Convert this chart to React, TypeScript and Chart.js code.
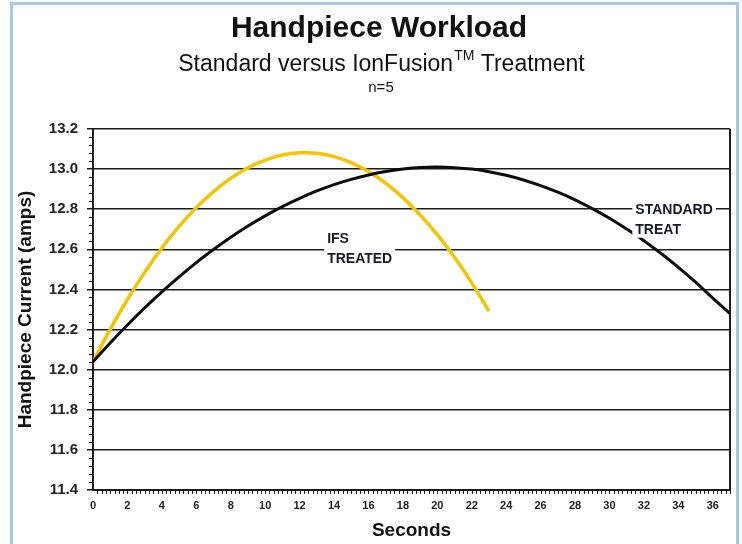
import React, { useEffect, useRef } from "react";
import { Chart, registerables } from "chart.js";

Chart.register(...registerables);

// ---- data ----
const standardSeconds = [0, 1, 2, 3, 4, 5, 6, 7, 8, 9, 10, 11, 12, 13, 14, 15, 16, 17, 18, 19, 20, 21, 22, 23, 24, 25, 26, 27, 28, 29, 30, 31, 32, 33, 34, 35, 36, 37];
const standardAmps = [12.04, 12.133, 12.223, 12.308, 12.388, 12.463, 12.534, 12.599, 12.66, 12.716, 12.767, 12.813, 12.854, 12.891, 12.923, 12.949, 12.971, 12.988, 13.0, 13.008, 13.01, 13.007, 13.0, 12.987, 12.969, 12.946, 12.918, 12.885, 12.847, 12.803, 12.755, 12.701, 12.643, 12.579, 12.51, 12.436, 12.357, 12.28];
const ifsSeconds = [0, 1, 2, 3, 4, 5, 6, 7, 8, 9, 10, 11, 12, 13, 14, 15, 16, 17, 18, 19, 20, 21, 22, 23];
const ifsAmps = [12.04, 12.201, 12.35, 12.485, 12.607, 12.714, 12.808, 12.888, 12.954, 13.007, 13.045, 13.07, 13.081, 13.079, 13.062, 13.032, 12.988, 12.93, 12.858, 12.772, 12.673, 12.56, 12.433, 12.292];

const seriesNames = ["STANDARD TREAT", "IFS TREATED"];
const ifsLabelLines = ["IFS", "TREATED"];
const ifsLabelAt = [13.6, 12.655];
const standardLabelLines = ["STANDARD", "TREAT"];
const standardLabelAt = [31.5, 12.8];

const yMin = 11.4;
const yMax = 13.2;
const yStep = 0.2;
const yMinorStep = 0.04;
const xMin = 0;
const xMax = 37;
const xStep = 2;
const xMinorStep = 0.25;

const titleText = "Handpiece Workload";
const subtitleMain = "Standard versus IonFusion";
const subtitleSup = "TM";
const subtitleEnd = " Treatment";
const nText = "n=5";
const xTitle = "Seconds";
const yTitle = "Handpiece Current (amps)";

const FONT = '"Liberation Sans", Arial, Helvetica, sans-serif';
const INK = "#1c1c1c";

const decorPlugin = {
  id: "decor",
  afterDatasetsDraw(chart: any) {
    const { ctx, chartArea, scales } = chart;
    const xs = scales.x;
    const ys = scales.y;
    ctx.save();
    // right frame of plot area
    ctx.strokeStyle = INK;
    ctx.lineWidth = 2;
    ctx.beginPath();
    ctx.moveTo(chartArea.right, chartArea.top);
    ctx.lineTo(chartArea.right, chartArea.bottom);
    ctx.stroke();

    // minor ticks on y axis
    ctx.lineWidth = 1;
    const nY = Math.round((yMax - yMin) / yMinorStep);
    for (let i = 0; i <= nY; i++) {
      if (i % 5 === 0) continue;
      const py = Math.round(ys.getPixelForValue(yMin + i * yMinorStep)) + 0.5;
      ctx.beginPath();
      ctx.moveTo(chartArea.left - 4, py);
      ctx.lineTo(chartArea.left, py);
      ctx.stroke();
    }
    // minor ticks on x axis
    const nX = Math.round((xMax - xMin) / xMinorStep);
    for (let i = 1; i <= nX; i++) {
      const px = Math.round(xs.getPixelForValue(xMin + i * xMinorStep)) + 0.5;
      ctx.beginPath();
      ctx.moveTo(px, chartArea.bottom);
      ctx.lineTo(px, chartArea.bottom + 4);
      ctx.stroke();
    }

    // in-plot series labels
    const drawLabel = (lines: string[], at: number[]) => {
      ctx.font = "bold 14px " + FONT;
      ctx.textBaseline = "middle";
      ctx.textAlign = "left";
      const x0 = xs.getPixelForValue(at[0]);
      const y0 = ys.getPixelForValue(at[1]);
      lines.forEach((ln, i) => {
        const w = ctx.measureText(ln).width;
        const y = y0 + i * 19.5;
        ctx.fillStyle = "#ffffff";
        ctx.fillRect(x0 - 3, y - 9, w + 6, 18);
      });
      lines.forEach((ln, i) => {
        const y = y0 + i * 19.5;
        ctx.fillStyle = "#151a28";
        ctx.fillText(ln, x0, y + 1);
      });
    };
    drawLabel(ifsLabelLines, ifsLabelAt);
    drawLabel(standardLabelLines, standardLabelAt);

    // titles
    ctx.fillStyle = "#111";
    ctx.textBaseline = "alphabetic";
    ctx.textAlign = "center";
    ctx.font = "bold 30px " + FONT;
    ctx.fillText(titleText, 379, 37);

    const big = "23px " + FONT;
    const small = "14px " + FONT;
    ctx.font = big;
    const w1 = ctx.measureText(subtitleMain).width;
    const w3 = ctx.measureText(subtitleEnd).width;
    ctx.font = small;
    const w2 = ctx.measureText(subtitleSup).width;
    const total = w1 + w2 + w3;
    let sx = 381 - total / 2;
    ctx.textAlign = "left";
    ctx.font = big;
    ctx.fillText(subtitleMain, sx, 71);
    sx += w1;
    ctx.font = small;
    ctx.fillText(subtitleSup, sx + 1, 60);
    sx += w2 + 1;
    ctx.font = big;
    ctx.fillText(subtitleEnd, sx, 71);

    ctx.textAlign = "center";
    ctx.font = "15px " + FONT;
    ctx.fillText(nText, 381, 92);
    ctx.restore();
  },
};

export default function App() {
  const canvasRef = useRef<HTMLCanvasElement | null>(null);

  useEffect(() => {
    const canvas = canvasRef.current;
    if (!canvas) return;
    const chart = new Chart(canvas, {
      type: "line",
      data: {
        datasets: [
          {
            label: seriesNames[0],
            data: standardSeconds.map((s, i) => ({ x: s, y: standardAmps[i] })),
            borderColor: "#0d0d0d",
            borderWidth: 3,
            pointRadius: 0,
            tension: 0.4,
            fill: false,
          },
          {
            label: seriesNames[1],
            data: ifsSeconds.map((s, i) => ({ x: s, y: ifsAmps[i] })),
            borderColor: "#f5c400",
            borderWidth: 3.5,
            pointRadius: 0,
            tension: 0.4,
            fill: false,
          },
        ],
      },
      options: {
        responsive: false,
        animation: false,
        events: [],
        layout: { padding: { top: 129, right: 12, left: 0, bottom: 0 } },
        plugins: {
          legend: { display: false },
          tooltip: { enabled: false },
          title: { display: false },
        },
        scales: {
          x: {
            type: "linear",
            min: xMin,
            max: xMax,
            afterFit: (scale: any) => {
              scale.height = 54;
            },
            ticks: {
              stepSize: xStep,
              includeBounds: false,
              maxRotation: 0,
              autoSkip: false,
              padding: 9,
              color: "#222",
              font: { family: FONT, size: 11, weight: "bold" },
            },
            grid: { display: false, drawTicks: false },
            border: { display: true, color: INK, width: 2 },
            title: {
              display: true,
              text: xTitle,
              color: "#111",
              font: { family: FONT, size: 19, weight: "bold" },
              padding: { top: 0, bottom: 2 },
            },
          },
          y: {
            type: "linear",
            min: yMin,
            max: yMax,
            afterFit: (scale: any) => {
              scale.width = 93;
            },
            ticks: {
              stepSize: yStep,
              padding: 9,
              color: "#222",
              callback: (v: any) => Number(v).toFixed(1),
              font: { family: FONT, size: 15, weight: "bold" },
            },
            grid: {
              color: INK,
              lineWidth: 1.5,
              drawTicks: true,
              tickLength: 6,
              tickColor: INK,
            },
            border: { display: true, color: INK, width: 2 },
            title: {
              display: true,
              text: yTitle,
              color: "#111",
              font: { family: FONT, size: 19, weight: "bold" },
              padding: { top: 14, bottom: 0 },
            },
          },
        },
      },
      plugins: [decorPlugin],
    } as any);
    return () => chart.destroy();
  }, []);

  return (
    <div
      style={{
        position: "fixed",
        left: 0,
        top: 0,
        width: 742,
        height: 544,
        background: "#ffffff",
        overflow: "hidden",
      }}
    >
      <div
        style={{
          position: "absolute",
          left: 10,
          top: 2,
          width: 729,
          height: 560,
          boxSizing: "border-box",
          border: "3px solid #a7c7e2",
        }}
      />
      <canvas
        ref={canvasRef}
        width={742}
        height={544}
        style={{ position: "absolute", left: 0, top: 0, width: 742, height: 544 }}
      />
    </div>
  );
}
